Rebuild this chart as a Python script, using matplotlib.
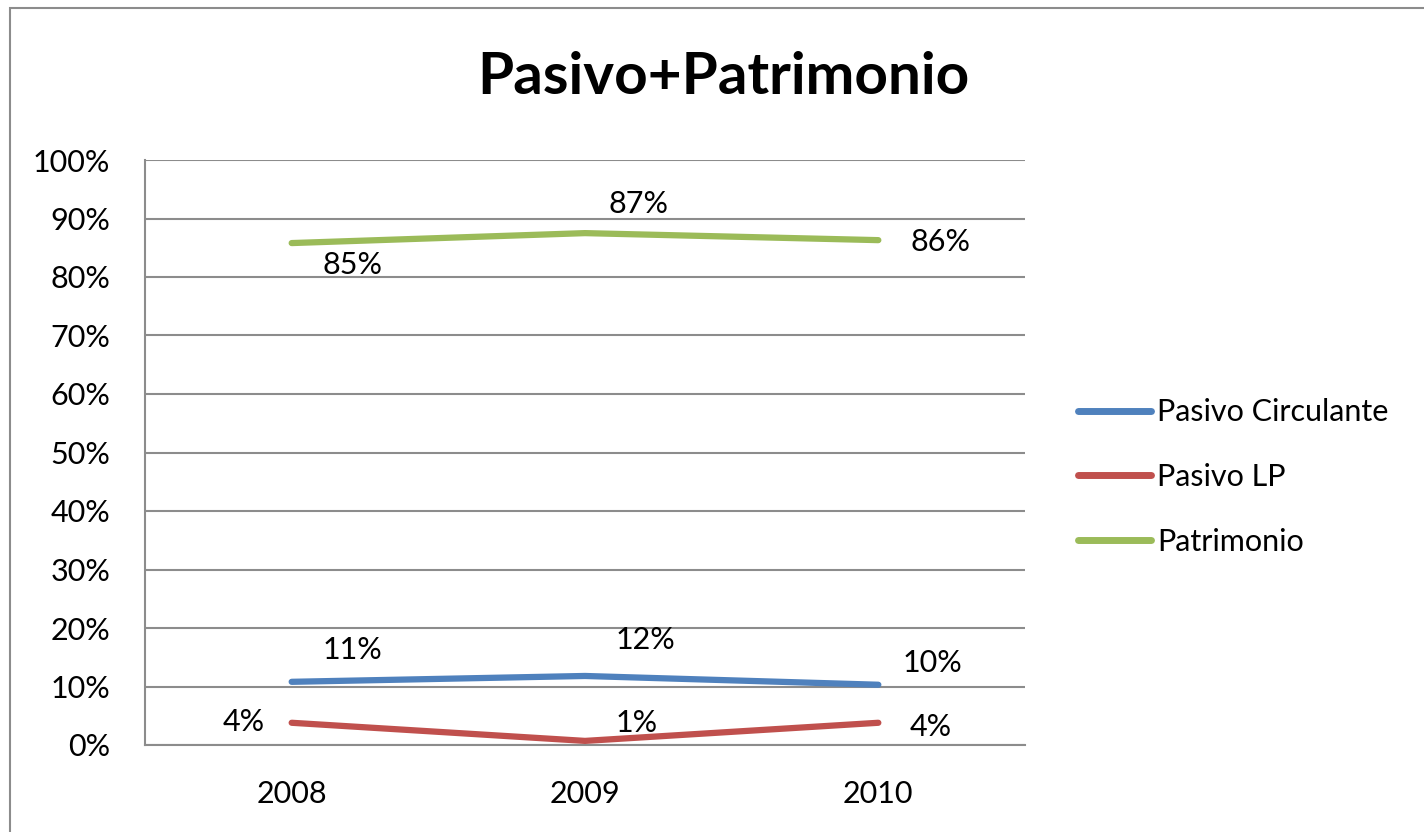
import matplotlib
matplotlib.use("Agg")
import matplotlib.pyplot as plt
from matplotlib.ticker import FuncFormatter, MultipleLocator
from matplotlib.patches import Rectangle

plt.rcParams['font.family'] = ['Lato', 'DejaVu Sans']

years = ["2008", "2009", "2010"]
series_names = ["Pasivo Circulante", "Pasivo LP", "Patrimonio"]
pasivo_circulante = [10.8, 11.8, 10.3]
pasivo_lp = [3.8, 0.7, 3.8]
patrimonio = [85.8, 87.5, 86.3]
labels_pc = ["11%", "12%", "10%"]
labels_lp = ["4%", "1%", "4%"]
labels_pat = ["85%", "87%", "86%"]
colors = ["#4F81BD", "#C0504D", "#9BBB59"]

W, H = 1424, 832
FS = 22
fig = plt.figure(figsize=(W / 100, H / 100), dpi=100)
fig.patch.set_facecolor("white")
fig.patches.append(Rectangle((10 / W, -0.05), 1.1, 1 - 8 / H + 0.05, transform=fig.transFigure,
                             fill=False, edgecolor="#8c8c8c", linewidth=1.5))

ax = fig.add_axes([145 / W, 1 - 745 / H, 880 / W, 585 / H])
x = list(range(len(years)))
data = [pasivo_circulante, pasivo_lp, patrimonio]
label_sets = [labels_pc, labels_lp, labels_pat]
offsets = [
    [(61, 32), (60, 36), (54, 22)],
    [(-48, 1), (52, 18), (52, -4)],
    [(61, -22), (53, 29), (62, -2)],
]
for name, vals, col, labs, offs in zip(series_names, data, colors, label_sets, offsets):
    ax.plot(x, vals, color=col, linewidth=4.5, solid_capstyle="round", label=name)
    for xi, v, lab, off in zip(x, vals, labs, offs):
        ax.annotate(lab, (xi, v), xytext=off, textcoords="offset pixels",
                    ha="center", va="center", fontsize=FS, color="black")

ax.set_xlim(-0.5, 2.5)
ax.set_ylim(0, 100)
ax.yaxis.set_major_locator(MultipleLocator(10))
ax.yaxis.set_major_formatter(FuncFormatter(lambda v, p: f"{v:.0f}%"))
ax.set_xticks(x)
ax.set_xticklabels(years)
ax.tick_params(axis="both", length=0, labelsize=FS, colors="black")
ax.tick_params(axis="x", pad=25)
ax.tick_params(axis="y", pad=25)
ax.grid(axis="y", color="#8c8c8c", linewidth=1.5)
ax.set_axisbelow(True)
for s in ["top", "right"]:
    ax.spines[s].set_visible(False)
for s in ["left", "bottom"]:
    ax.spines[s].set_color("#8c8c8c")
    ax.spines[s].set_linewidth(1.5)

fig.text(723 / W, 1 - 78 / H, "Pasivo+Patrimonio", ha="center", va="center",
         fontsize=42, fontweight="bold")

leg = fig.legend(loc="center left", bbox_to_anchor=(1078 / W, 1 - 477 / H), frameon=False,
                 fontsize=FS, handlelength=2.4, handletextpad=0.2, labelspacing=1.2,
                 borderpad=0, borderaxespad=0)
for lh in leg.get_lines():
    lh.set_linewidth(5)

fig.savefig("out.png", dpi=100)
